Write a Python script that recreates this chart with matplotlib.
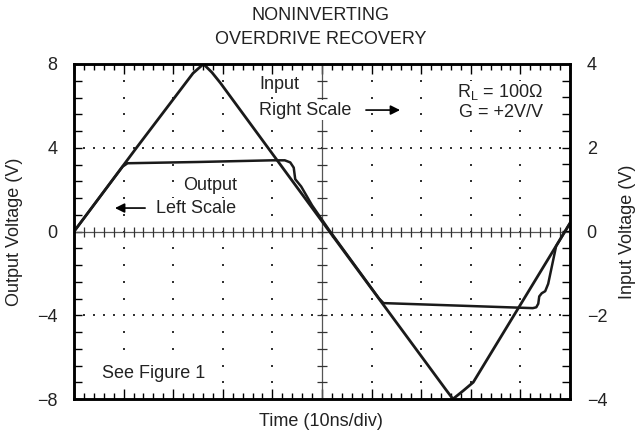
"""
Noninverting overdrive recovery scope trace: output (left scale) and
input (right scale) against time in divisions.
"""

import matplotlib
matplotlib.use("Agg")  # no display in the sandbox
import matplotlib.pyplot as plt
import numpy as np
from matplotlib.ticker import MultipleLocator

plt.rcParams['font.family'] = ['Liberation Sans', 'DejaVu Sans']

TEXT = '#222222'
TRACE = '#1a1a1a'

# Input signal, right scale (V), time in divisions
input_t = [0.0, 1.26, 2.40, 2.61, 2.78, 2.95, 5.15, 7.50, 7.64, 7.85, 8.05, 10.0]
input_v = [0.0, 2.0, 3.78, 4.0, 3.80, 3.55, 0.0, -3.78, -4.0, -3.80, -3.60, 0.2]

# Output signal, left scale (V)
output_t = [0.0, 0.98, 1.08, 2.5, 4.0, 4.25, 4.36, 4.43, 4.46, 4.58, 4.80, 5.15,
            6.15, 6.24, 7.5, 9.25, 9.32, 9.36, 9.38, 9.43, 9.50, 9.56, 9.72, 10.0]
output_v = [0.0, 3.1, 3.26, 3.32, 3.40, 3.40, 3.30, 3.05, 2.5, 2.15, 1.25, 0.05,
            -3.2, -3.42, -3.52, -3.66, -3.62, -3.45, -3.1, -2.95, -2.85, -2.5, -0.7, 0.4]

left_ticks = [-8, -4, 0, 4, 8]
right_ticks = [-4, -2, 0, 2, 4]


def main():
    fig = plt.figure(figsize=(6.41, 4.42), dpi=100)
    ax = fig.add_axes([74 / 641, 43 / 442, 496 / 641, 335 / 442])
    ax.set_xlim(0, 10)
    ax.set_ylim(-8, 8)
    ax2 = ax.twinx()
    ax2.set_ylim(-4, 4)

    # ticks: all inward, graticule style
    ax.xaxis.set_major_locator(MultipleLocator(1))
    ax.xaxis.set_minor_locator(MultipleLocator(0.2))
    ax.set_yticks(left_ticks)
    ax.yaxis.set_minor_locator(MultipleLocator(0.8))
    ax.tick_params(which='both', direction='in', top=True, bottom=True,
                   left=True, right=False, labelbottom=False,
                   labelcolor=TEXT, labelsize=13, width=1)
    ax.tick_params(axis='x', which='major', length=7)
    ax.tick_params(axis='x', which='minor', length=4.5)
    ax.tick_params(axis='y', which='both', length=6, pad=12)

    ax2.set_yticks(right_ticks)
    ax2.yaxis.set_minor_locator(MultipleLocator(0.4))
    ax2.tick_params(which='both', direction='in', right=True, left=False,
                    length=6, width=1, pad=12, labelcolor=TEXT, labelsize=13)

    for a in (ax, ax2):
        for s in a.spines.values():
            s.set_linewidth(1.8)

    # dotted grid at the major divisions, dots on the minor positions
    xs_minor = np.arange(0, 10.01, 0.2)
    ys_minor = np.arange(-8, 8.01, 0.8)
    dot = dict(ls='none', marker='s', ms=1.5, mew=0, color='#333333')
    for xg in range(1, 10):
        if xg == 5:
            continue
        ax.plot(np.full_like(ys_minor, xg), ys_minor, **dot)
    for yg in (-4, 4):
        ax.plot(xs_minor, np.full_like(xs_minor, yg), **dot)

    # centre cross with its own tick marks
    ax.axhline(0, color='#555555', lw=0.9)
    ax.axvline(5, color='#555555', lw=0.9)
    ax.plot(xs_minor, np.zeros_like(xs_minor), ls='none', marker='|', ms=7,
            mew=0.9, color='#333333')
    ax.plot(np.full_like(ys_minor, 5), ys_minor, ls='none', marker='_', ms=7,
            mew=0.9, color='#333333')

    # traces
    ax2.plot(input_t, input_v, color=TRACE, lw=2.0, solid_joinstyle='round')
    ax.plot(output_t, output_v, color=TRACE, lw=1.8, solid_joinstyle='round')

    # annotations, on white so the grid dots stop at the words
    fs = 13
    box = dict(facecolor='white', edgecolor='none', pad=1.0)
    kw = dict(fontsize=fs, color=TEXT, va='center', bbox=box, zorder=3)
    ax.text(3.73, 7.0, 'Input', **kw)
    ax.text(3.73, 5.8, 'Right Scale', **kw)
    ax.annotate('', xy=(6.63, 5.8), xytext=(5.83, 5.8),
                arrowprops=dict(arrowstyle='-|>', lw=1.2, color='black',
                                mutation_scale=14))
    ax.text(9.46, 6.66, r'R$_\mathregular{L}$ = 100Ω', ha='right', **kw)
    ax.text(9.46, 5.66, 'G = +2V/V', ha='right', **kw)
    ax.text(2.74, 2.22, 'Output', ha='center', **kw)
    ax.text(1.65, 1.12, 'Left Scale', **kw)
    ax.annotate('', xy=(0.77, 1.12), xytext=(1.49, 1.12),
                arrowprops=dict(arrowstyle='-|>', lw=1.2, color='black',
                                mutation_scale=14))
    ax.text(0.56, -6.76, 'See Figure 1', **kw)

    # titles and axis labels
    fig.text(0.5, 1 - 16 / 442, 'NONINVERTING', ha='center', va='center',
             fontsize=fs, color=TEXT)
    fig.text(0.5, 1 - 40 / 442, 'OVERDRIVE RECOVERY', ha='center', va='center',
             fontsize=fs, color=TEXT)
    fig.text(0.5, 1 - 421 / 442, 'Time (10ns/div)', ha='center', va='center',
             fontsize=fs, color=TEXT)
    fig.text(15 / 641, 1 - 231.5 / 442, 'Output Voltage (V)', rotation=90,
             ha='center', va='center', fontsize=fs, color=TEXT)
    fig.text(628 / 641, 1 - 231.5 / 442, 'Input Voltage (V)', rotation=90,
             ha='center', va='center', fontsize=fs, color=TEXT)

    fig.savefig('out.png', dpi=100)
    plt.close(fig)


if __name__ == "__main__":
    main()
